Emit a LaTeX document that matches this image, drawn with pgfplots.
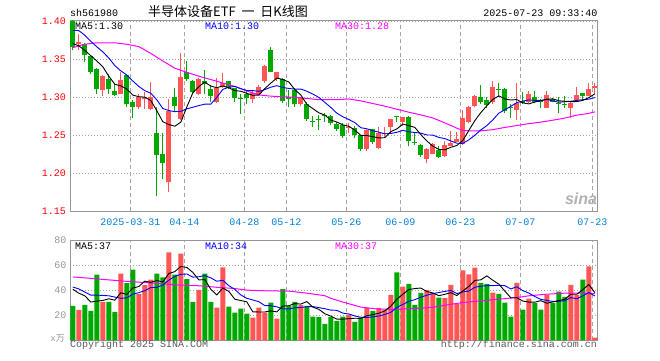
\documentclass[border=0pt]{standalone}
\usepackage{fontspec}
\setmainfont{Liberation Mono}
\newfontfamily\cjk{Noto Sans CJK SC}
\newfontfamily\sinafont{Liberation Sans}
\usepackage{pgfplots}
\usepackage{pgfplotstable}
\pgfplotsset{compat=1.18}
\definecolor{upc}{RGB}{255,85,85}
\definecolor{dnc}{RGB}{0,168,0}
\definecolor{gridc}{RGB}{165,165,165}
\definecolor{framec}{RGB}{150,150,150}
\definecolor{datec}{RGB}{0,128,216}
\definecolor{magc}{RGB}{255,0,255}
\definecolor{bluec}{RGB}{0,0,255}
\definecolor{volc}{RGB}{150,150,150}
\definecolor{copyc}{RGB}{90,90,90}

% up candles: i O H L C V
\pgfplotstableread{
i O H L C V
1 1.371 1.383 1.362 1.373 24.3
5 1.310 1.329 1.302 1.328 30.7
8 1.305 1.333 1.304 1.323 53.1
11 1.288 1.304 1.285 1.301 36.8
12 1.298 1.307 1.285 1.300 44.0
13 1.285 1.320 1.284 1.301 48.5
16 1.188 1.2975 1.175 1.2825 70.1
18 1.272 1.358 1.270 1.3275 69.1
21 1.304 1.326 1.303 1.324 40.3
24 1.2944 1.325 1.293 1.313 26.1
25 1.3134 1.332 1.312 1.3187 58.1
30 1.298 1.309 1.293 1.3054 18.1
31 1.304 1.316 1.302 1.314 26.1
32 1.321 1.343 1.319 1.3415 22.1
34 1.324 1.334 1.322 1.333 17.3
38 1.291 1.301 1.289 1.299 28.0
46 1.260 1.2657 1.2535 1.261 20.3
49 1.2315 1.258 1.230 1.257 25.9
51 1.2335 1.2615 1.232 1.2525 25.9
52 1.2515 1.2615 1.248 1.2525 24.3
53 1.2615 1.272 1.2525 1.2715 36.3
55 1.268 1.2745 1.262 1.2737 42.9
59 1.2195 1.234 1.214 1.2327 40.3
60 1.226 1.240 1.225 1.2393 37.6
62 1.223 1.2425 1.2215 1.2372 33.6
63 1.2363 1.2555 1.236 1.2406 44.3
64 1.2415 1.2545 1.241 1.2446 28.8
65 1.2393 1.2833 1.238 1.2723 55.7
66 1.268 1.289 1.266 1.2878 52.5
67 1.2886 1.3032 1.287 1.3018 57.9
70 1.2935 1.3217 1.292 1.3143 38.1
74 1.2833 1.3187 1.270 1.293 45.9
76 1.2935 1.3085 1.2925 1.3041 33.3
79 1.2865 1.3085 1.286 1.3032 36.0
83 1.2856 1.2935 1.2725 1.2922 44.3
84 1.2966 1.3143 1.296 1.3032 36.0
86 1.3024 1.3196 1.3015 1.3107 58.9
87 1.312 1.3187 1.305 1.315 2.1
}\uptab

% down candles: i O H L C V
\pgfplotstableread{
i O H L C V
0 1.401 1.402 1.362 1.366 27.5
2 1.371 1.372 1.347 1.356 28.3
3 1.354 1.355 1.331 1.334 23.5
4 1.338 1.339 1.304 1.311 52.3
6 1.324 1.331 1.304 1.311 30.7
7 1.3085 1.318 1.302 1.303 22.7
9 1.329 1.330 1.288 1.291 45.6
10 1.294 1.297 1.273 1.287 56.3
14 1.2525 1.288 1.170 1.224 53.1
15 1.226 1.2525 1.192 1.214 50.1
17 1.301 1.313 1.2825 1.289 52.3
19 1.334 1.348 1.322 1.324 48.8
20 1.322 1.323 1.305 1.307 30.7
22 1.321 1.336 1.304 1.318 53.1
23 1.3107 1.316 1.294 1.302 30.7
26 1.321 1.322 1.311 1.312 26.9
27 1.312 1.313 1.294 1.299 22.1
28 1.2995 1.305 1.278 1.2985 25.3
29 1.304 1.310 1.292 1.299 21.3
33 1.362 1.367 1.333 1.334 30.1
35 1.324 1.325 1.2925 1.2953 40.8
36 1.301 1.310 1.288 1.298 27.5
37 1.310 1.312 1.287 1.291 30.7
39 1.292 1.294 1.269 1.271 27.5
40 1.2685 1.2755 1.2615 1.2675 18.9
41 1.2715 1.277 1.257 1.2705 18.4
42 1.2765 1.279 1.268 1.2755 13.1
43 1.2755 1.277 1.2635 1.2667 18.4
44 1.2645 1.267 1.256 1.258 15.5
45 1.2635 1.266 1.246 1.249 18.9
47 1.260 1.262 1.246 1.2503 14.7
48 1.2503 1.2505 1.230 1.2315 18.1
50 1.258 1.259 1.239 1.2415 23.5
54 1.2755 1.276 1.268 1.2745 54.1
56 1.274 1.275 1.236 1.2425 45.1
57 1.2414 1.2525 1.237 1.2404 28.3
58 1.238 1.239 1.221 1.224 37.9
61 1.2313 1.236 1.220 1.2217 34.1
68 1.301 1.316 1.292 1.2935 45.9
69 1.2966 1.300 1.2865 1.290 45.1
71 1.3115 1.3187 1.301 1.3105 37.1
72 1.311 1.312 1.279 1.282 30.1
73 1.2874 1.292 1.2733 1.2864 18.9
75 1.2953 1.3068 1.291 1.2922 24.5
77 1.301 1.3085 1.293 1.2944 29.6
78 1.2952 1.298 1.2865 1.2942 24.5
80 1.298 1.299 1.2935 1.2944 29.6
81 1.293 1.301 1.279 1.292 38.9
82 1.2915 1.3023 1.2865 1.2905 34.7
85 1.3054 1.306 1.2966 1.3024 48.5
}\dntab

% moving averages: i ma5 ma10 vma5 vma10
\pgfplotstableread{
i ma5 ma10 vma5 vma10
0 1.371 1.3885 40.8 42.5
1 1.368 1.388 37.6 41.0
2 1.362 1.382 35.5 38.5
3 1.355 1.374 30.5 36.0
4 1.348 1.3667 31.2 36.0
5 1.3404 1.360 31.8 35.8
6 1.328 1.352 33.1 35.5
7 1.3174 1.342 32.0 34.5
8 1.3152 1.335 37.9 33.5
9 1.3112 1.3296 36.6 33.9
10 1.303 1.3217 41.7 36.8
11 1.301 1.3145 42.9 38.0
12 1.3004 1.3089 47.2 39.6
13 1.296 1.3056 46.2 42.1
14 1.2826 1.2969 47.7 42.2
15 1.268 1.2855 46.5 44.1
16 1.2643 1.2827 53.2 48.0
17 1.2621 1.2813 54.8 51.0
18 1.2674 1.2817 58.9 52.6
19 1.2874 1.285 58.1 52.9
20 1.306 1.287 54.2 50.4
21 1.3143 1.2893 48.2 50.7
22 1.3201 1.2911 48.4 51.6
23 1.315 1.2912 40.7 49.8
24 1.3128 1.3001 36.2 47.1
25 1.3151 1.3106 41.7 47.9
26 1.3127 1.3135 39.0 43.6
27 1.3089 1.3145 32.8 40.6
28 1.3082 1.3116 31.7 36.2
29 1.3054 1.3091 30.7 33.5
30 1.3028 1.309 22.7 32.2
31 1.3032 1.308 22.6 30.8
32 1.3117 1.3103 22.6 27.7
33 1.3188 1.3135 23.5 27.6
34 1.3256 1.3155 22.7 26.7
35 1.3236 1.3132 27.3 25.0
36 1.3204 1.3118 27.6 25.1
37 1.3103 1.311 29.3 25.9
38 1.3033 1.311 28.9 26.2
39 1.2909 1.3082 30.9 26.8
40 1.2853 1.3044 26.5 26.9
41 1.2798 1.3001 24.7 26.1
42 1.2767 1.2935 21.2 25.2
43 1.2702 1.2868 19.3 24.1
44 1.2676 1.2793 16.9 23.9
45 1.2639 1.2746 16.9 21.7
46 1.262 1.2709 17.2 21.0
47 1.257 1.2669 17.6 19.4
48 1.250 1.2601 17.5 18.4
49 1.2498 1.2587 19.6 18.2
50 1.2483 1.2561 20.5 18.7
51 1.2466 1.2543 21.6 19.4
52 1.247 1.252 23.5 20.6
53 1.255 1.2525 27.2 22.3
54 1.2585 1.2541 32.8 26.2
55 1.2649 1.2566 36.7 28.6
56 1.2629 1.2548 40.5 31.1
57 1.2605 1.2538 41.3 32.4
58 1.251 1.253 41.7 34.4
59 1.2427 1.2506 38.9 35.9
60 1.2358 1.2504 37.8 37.3
61 1.2316 1.2473 35.6 38.1
62 1.231 1.2458 36.7 39.0
63 1.2343 1.2427 38.0 39.8
64 1.2367 1.2397 35.7 37.3
65 1.2433 1.2395 39.3 38.6
66 1.2565 1.2441 43.0 39.3
67 1.2694 1.2502 47.8 42.3
68 1.280 1.2572 48.2 43.1
69 1.2891 1.2629 51.4 43.6
70 1.2975 1.2704 47.9 43.6
71 1.302 1.2793 44.8 43.9
72 1.2981 1.2837 39.3 43.6
73 1.2966 1.2883 33.9 41.0
74 1.2972 1.2932 34.0 42.7
75 1.2928 1.2952 31.3 39.6
76 1.2915 1.2968 30.5 37.7
77 1.294 1.296 30.4 34.9
78 1.2956 1.2961 31.6 32.7
79 1.2976 1.2974 29.6 31.8
80 1.2981 1.2954 30.6 31.0
81 1.2956 1.2936 31.7 31.1
82 1.2949 1.2944 32.7 31.6
83 1.2945 1.295 36.7 34.1
84 1.2945 1.296 36.7 33.1
85 1.2961 1.2971 40.5 35.5
86 1.2998 1.2977 44.5 38.1
87 1.3047 1.2998 38.0 35.4
}\matab

% 30-day averages (price)
\pgfplotstableread{
i ma30
0 1.3655
1 1.368
2 1.370
4 1.372
7 1.372
9 1.370
11 1.367
13 1.358
15 1.348
17 1.3385
19 1.333
21 1.328
23 1.3235
25 1.319
27 1.3145
29 1.3085
31 1.3033
33 1.3017
36 1.3005
38 1.2995
41 1.297
44 1.297
46 1.298
48 1.2955
50 1.292
52 1.2885
54 1.2845
56 1.2805
58 1.277
60 1.273
62 1.2665
64 1.2595
65 1.2565
66 1.256
68 1.256
70 1.2575
72 1.2605
74 1.263
76 1.2655
78 1.2675
80 1.270
82 1.2728
84 1.2767
86 1.279
87 1.281
}\mathirty

% 30-day averages (volume)
\pgfplotstableread{
i vma30
0 50.5
2 49.8
4 49.0
6 48.2
9 47.0
12 46.1
15 45.0
18 44.0
21 43.5
24 42.3
27 41.3
29 40.0
32 39.5
36 39.2
39 37.6
42 35.6
43 33.5
45 30.5
48 26.5
51 24.8
54 24.8
57 25.3
60 26.3
62 28.0
65 30.1
68 31.5
71 32.8
74 34.1
76 35.5
79 36.8
82 37.6
85 37.6
87 37.3
}\vmathirty

\pgfplotsset{
  kbase/.style={
    scale only axis, width=527.7pt,
    xmin=-0.467, xmax=87.48,
    axis line style={draw=framec, line width=0.8pt},
    major tick length=0pt,
    xmajorgrids, ymajorgrids,
    major x grid style={draw=gridc, line width=0.8pt, dash pattern=on 4pt off 3pt},
    major y grid style={draw=gridc, line width=0.8pt, dash pattern=on 1pt off 2pt},
    xtick={9.583,18.583,28.583,35.583,45.583,54.583,64.583,74.583,86.583},
    /pgf/number format/assume math mode=true,
    tick label style={font=\fontsize{10}{10}\selectfont, inner sep=0pt},
    clip=true,
  },
  candle/.style 2 args={draw=none, mark=none, forget plot,
    error bars/.cd, y dir=plus, y explicit, error mark=none,
    error bar style={line width=#1, draw=#2}},
}

\begin{document}
\begin{tikzpicture}[x=1pt,y=1pt]
\useasboundingbox (0,0) rectangle (660,360);
\fill[white] (0,0) rectangle (660,360);

% ---------- price panel ----------
\begin{axis}[kbase,
  at={(70pt,148.7pt)}, anchor=south west, height=191.3pt,
  ymin=1.15, ymax=1.402,
  ytick={1.15,1.2,1.25,1.3,1.35,1.4},
  yticklabels={1.15,1.20,1.25,1.30,1.35,1.40},
  yticklabel style={text=red, anchor=east, xshift=-4pt},
  xticklabels={2025-03-31,04-14,04-28,05-12,05-26,06-09,06-23,07-07,07-23},
  xticklabel style={text=datec, anchor=base, yshift=-13.7pt},
]
% wicks
\addplot[candle={1pt}{upc}]
  table[x=i, y=L, y error plus expr=\thisrow{H}-\thisrow{L}] {\uptab};
\addplot[candle={1pt}{dnc}]
  table[x=i, y=L, y error plus expr=\thisrow{H}-\thisrow{L}] {\dntab};
% bodies
\addplot[candle={5pt}{upc}]
  table[x=i, y=O, y error plus expr=\thisrow{C}-\thisrow{O}] {\uptab};
\addplot[candle={5pt}{dnc}]
  table[x=i, y=C, y error plus expr=\thisrow{O}-\thisrow{C}] {\dntab};
% moving averages
\addplot[magc, line width=1pt, mark=none] table[x=i, y=ma30] {\mathirty};
\addplot[bluec, line width=0.9pt, mark=none] table[x=i, y=ma10] {\matab};
\addplot[black, line width=0.9pt, mark=none] table[x=i, y=ma5] {\matab};
\end{axis}

% ---------- volume panel ----------
\begin{axis}[kbase,
  at={(70pt,19.7pt)}, anchor=south west, height=100.3pt,
  ymin=0, ymax=80,
  ytick={20,40,60,80},
  yticklabels={20,40,60,80},
  yticklabel style={text=volc, anchor=east, xshift=-3.5pt},
  xticklabels={},
]
\addplot[ybar, bar width=5pt, bar shift=0pt, fill=upc, draw=none] table[x=i, y=V] {\uptab};
\addplot[ybar, bar width=5pt, bar shift=0pt, fill=dnc, draw=none] table[x=i, y=V] {\dntab};
\addplot[magc, line width=1pt, mark=none] table[x=i, y=vma30] {\vmathirty};
\addplot[bluec, line width=0.9pt, mark=none] table[x=i, y=vma10] {\matab};
\addplot[black, line width=0.9pt, mark=none] table[x=i, y=vma5] {\matab};
\end{axis}

% ---------- texts ----------
\begin{scope}[every node/.style={inner sep=0pt, font=\fontsize{10}{10}\selectfont}]
\node[anchor=base west] at (70,343.5) {sh561980};
\node[anchor=base east] at (597.5,344) {2025-07-23 09:33:40};
\node[anchor=base] at (228,344) {\cjk\fontsize{13}{13}\selectfont 半导体设备ETF\ \ 一\ \ 日K线图};
\node[anchor=base west] at (75,330.7) {MA5:1.30};
\node[anchor=base west, text=bluec] at (205,330.7) {MA10:1.30};
\node[anchor=base west, text=magc] at (335,330.7) {MA30:1.28};
\node[anchor=base west] at (75,110.7) {MA5:37};
\node[anchor=base west, text=bluec] at (205,110.7) {MA10:34};
\node[anchor=base west, text=magc] at (335,110.7) {MA30:37};
\node[anchor=base west, text=copyc] at (70,12.5) {Copyright 2025 SINA.COM};
\node[anchor=base east, text=copyc] at (597,12.5) {http://finance.sina.com.cn};
\node[anchor=base east, text=volc] at (65,18.5) {\fontsize{9}{9}\selectfont x\cjk 万};
\node[anchor=base, text=black!30] at (581,156) {\sinafont\bfseries\itshape\fontsize{16}{16}\selectfont sina};
\end{scope}
\end{tikzpicture}
\end{document}
